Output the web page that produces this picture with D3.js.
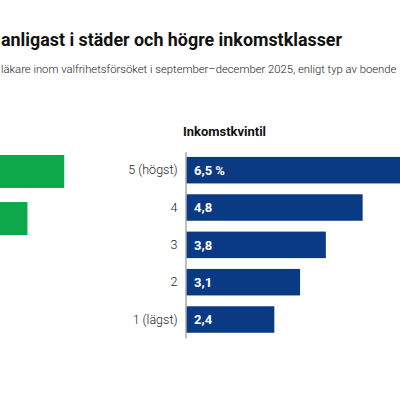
<!DOCTYPE html>
<html>
<head>
<meta charset="utf-8">
<script src="https://cdn.jsdelivr.net/npm/d3@7"></script>
<style>
  html, body { margin: 0; padding: 0; background: #fff; overflow: hidden; }
  svg { display: block; font-family: Roboto, "Open Sans", sans-serif; }
</style>
</head>
<body>
<div id="chart"></div>
<script>
// Data
const title = "anligast i städer och högre inkomstklasser";
const subtitle = "läkare inom valfrihetsförsöket i september\u2013december 2025, enligt typ av boende";
const incomeTitle = "Inkomstkvintil";
const incomeCats = ["5 (högst)", "4", "3", "2", "1 (lägst)"];
const incomeValues = [6.5, 4.8, 3.8, 3.1, 2.4];
const incomeLabels = ["6,5 %", "4,8", "3,8", "3,1", "2,4"];
// left panel (boende) is cut off by the crop, only the bar ends show
const housingIdx = ["a", "b"];
const housingValues = [5.55, 4.55];

const width = 400, height = 400;
const blue = "#0b3a84", green = "#0ea84a";

const svg = d3.select("#chart").append("svg")
  .attr("width", width)
  .attr("height", height);

// Titles
svg.append("text")
  .attr("x", 1).attr("y", 46)
  .attr("font-size", 19).attr("font-weight", 700)
  .attr("fill", "#111")
  .attr("textLength", 341).attr("lengthAdjust", "spacingAndGlyphs")
  .text(title);

// subtitle: shrink the font until it fits the width
const sub = svg.append("text")
  .attr("x", 1).attr("y", 73)
  .attr("font-size", 13).attr("font-weight", 300)
  .attr("fill", "#222")
  .text(subtitle);
const subW = sub.node().getComputedTextLength();
if (subW > 396) sub.attr("font-size", 13 * 396 / subW);

// Shared value scale
const perUnit = 36.8;

// Left panel (boende) - origin outside the visible area
const x0 = -140;
const xL = d3.scaleLinear().domain([0, 6.5]).range([x0, x0 + perUnit * 6.5]);
const yL = d3.scaleBand().domain(housingIdx).range([150, 240]).paddingInner(0.3).paddingOuter(0.106);

svg.append("g").selectAll("rect")
  .data(housingValues)
  .join("rect")
  .attr("x", xL(0))
  .attr("y", (d, i) => yL(housingIdx[i]))
  .attr("width", d => xL(d) - xL(0))
  .attr("height", yL.bandwidth())
  .attr("fill", green);

// Right panel (inkomstkvintil)
const ox = 186;
const x = d3.scaleLinear().domain([0, 6.5]).range([ox, ox + perUnit * 6.5]);
const y = d3.scaleBand().domain(incomeCats).range([151.7, 338]).paddingInner(0.29).paddingOuter(0.14);

svg.append("text")
  .attr("x", 183).attr("y", 136)
  .attr("font-size", 13).attr("font-weight", 700)
  .attr("fill", "#111")
  .attr("textLength", 83).attr("lengthAdjust", "spacingAndGlyphs")
  .text(incomeTitle);

const g = svg.append("g");

g.selectAll("rect")
  .data(incomeValues)
  .join("rect")
  .attr("x", x(0))
  .attr("y", (d, i) => y(incomeCats[i]))
  .attr("width", d => x(d) - x(0))
  .attr("height", y.bandwidth())
  .attr("fill", blue);

g.selectAll("text.val")
  .data(incomeLabels)
  .join("text")
  .attr("class", "val")
  .attr("x", x(0) + 8)
  .attr("y", (d, i) => y(incomeCats[i]) + y.bandwidth() / 2)
  .attr("dy", "0.36em")
  .attr("font-size", 13).attr("font-weight", 700)
  .attr("fill", "#fff")
  .text(d => d);

// category axis
const axis = svg.append("g")
  .attr("transform", `translate(${ox - 0.5},0)`)
  .call(d3.axisLeft(y).tickSize(0).tickPadding(8));
axis.select(".domain").attr("stroke", "#aaa").attr("stroke-width", 1.5);
axis.selectAll("text")
  .attr("font-size", 12.5).attr("font-weight", 300)
  .attr("font-family", "Roboto, sans-serif")
  .attr("fill", "#222");
</script>
</body>
</html>
